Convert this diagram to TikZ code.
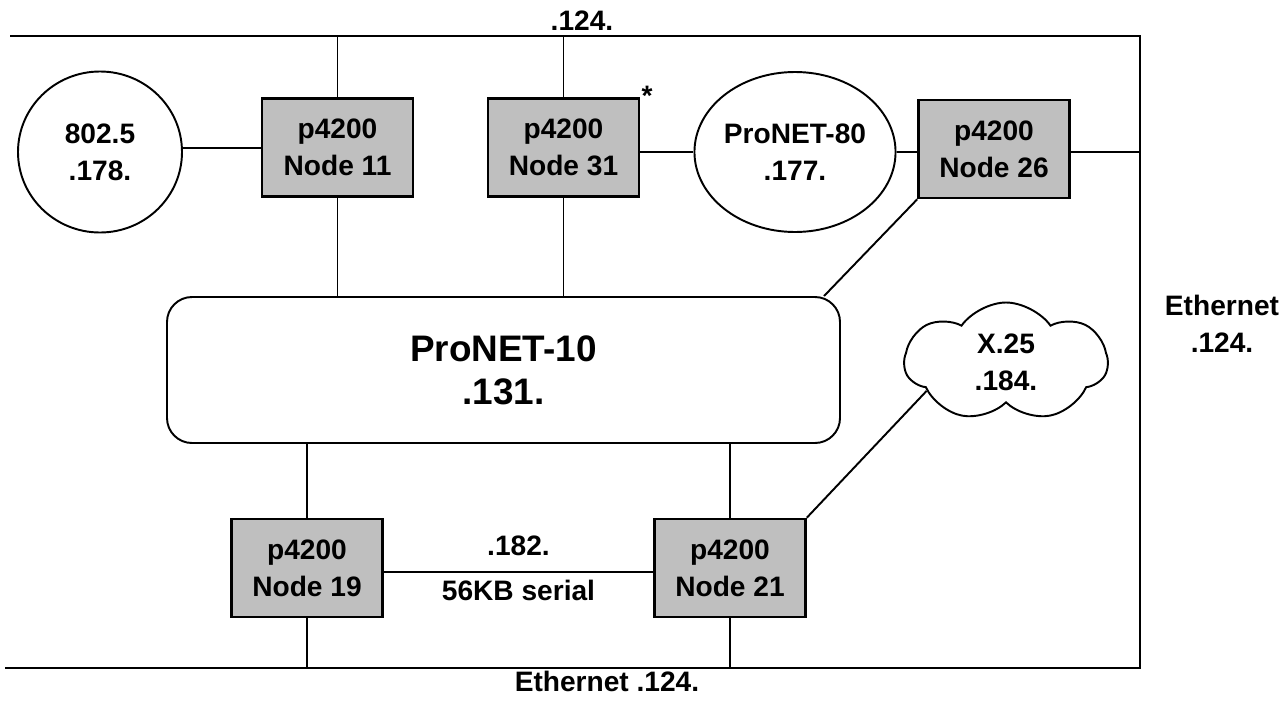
\documentclass[tikz,border=0pt]{standalone}
\usepackage{fontspec}
\setmainfont{Liberation Sans}
\usetikzlibrary{shapes.geometric, shapes.symbols}

\begin{document}
\begin{tikzpicture}[
  x=0.2mm, y=-0.2mm,
  font=\bfseries\fontsize{16}{21}\selectfont,
  line width=1.1pt,
  nodebox/.style={draw, line width=1.5pt, fill=black!25, minimum width=30.2mm, minimum height=19.6mm,
    align=center, inner sep=2pt},
  ring/.style={draw, ellipse, align=center, inner sep=0pt},
  backbone/.style={draw, rounded corners=5mm, minimum width=134.6mm, minimum height=29.2mm,
    align=center, font=\bfseries\fontsize{21}{24.5}\selectfont},
  puff/.style={draw, cloud, cloud puffs=7, cloud puff arc=110, minimum width=40.6mm, minimum height=23.8mm,
    align=center, inner sep=0pt},
  lbl/.style={inner sep=0pt, align=center},
]
\useasboundingbox (0,0) rectangle (1285,708);

% --- Ethernet ring ---
\coordinate (etl) at (10,36);
\coordinate (etr) at (1140,36);
\coordinate (ebr) at (1140,668);
\coordinate (ebl) at (5,668);
\draw (etl) -- (etr) -- (ebr) -- (ebl);

% --- Top row ---
\node[ring, minimum width=32.8mm, minimum height=32.2mm] (tr5) at (100,152) {802.5\\.178.};
\node[nodebox] (n11) at (337.5,147.5) {p4200\\Node 11};
\node[nodebox] (n31) at (563.5,147.5) {p4200\\Node 31};
\node[ring, minimum width=33.4mm, minimum height=32mm] (p80) at (795,152) {ProNET-80\\.177.};
\node[nodebox] (n26) at (994,149) {p4200\\Node 26};
\node[lbl] (star) at (647,96) {*};

% --- Middle ---
\node[backbone] (p10) at (503.5,370) {ProNET-10\\.131.};
\node[puff] (x25) at (1006,362) {X.25\\.184.};

% --- Bottom row ---
\node[nodebox] (n19) at (307,568) {p4200\\Node 19};
\node[nodebox] (n21) at (730,568) {p4200\\Node 21};

% --- Labels ---
\node[lbl] (ltop) at (582,21) {.124.};
\node[lbl] (lbot) at (607,681) {Ethernet .124.};
\node[lbl] (lright) at (1222,324) {Ethernet\\.124.};

% --- Links ---
\draw (tr5.east |- 0,148) -- (n11.west |- 0,148);
\draw (n31.east |- 0,152) -- (p80.west |- 0,152);
\draw (p80.east |- 0,152) -- (n26.west |- 0,152);
\draw (n26.east |- 0,152) -- (ebr |- 0,152);
\draw (n11.north) -- (n11.north |- etl);
\draw (n31.north) -- (n31.north |- etl);
\draw (n11.south) -- (n11.south |- p10.north);
\draw (n31.south) -- (n31.south |- p10.north);
\draw (p10.13) -- (n26.south west);
\draw (n19.north) -- (n19.north |- p10.south);
\draw (n21.north) -- (n21.north |- p10.south);
\draw (n19.south) -- (n19.south |- ebl);
\draw (n21.south) -- (n21.south |- ebl);
\draw (x25.200) -- (n21.north east);
\draw (n19.east |- 0,572) -- node[lbl, above=3mm] {.182.} node[lbl, below=1.5mm] {56KB serial} (n21.west |- 0,572);

\end{tikzpicture}
\end{document}
